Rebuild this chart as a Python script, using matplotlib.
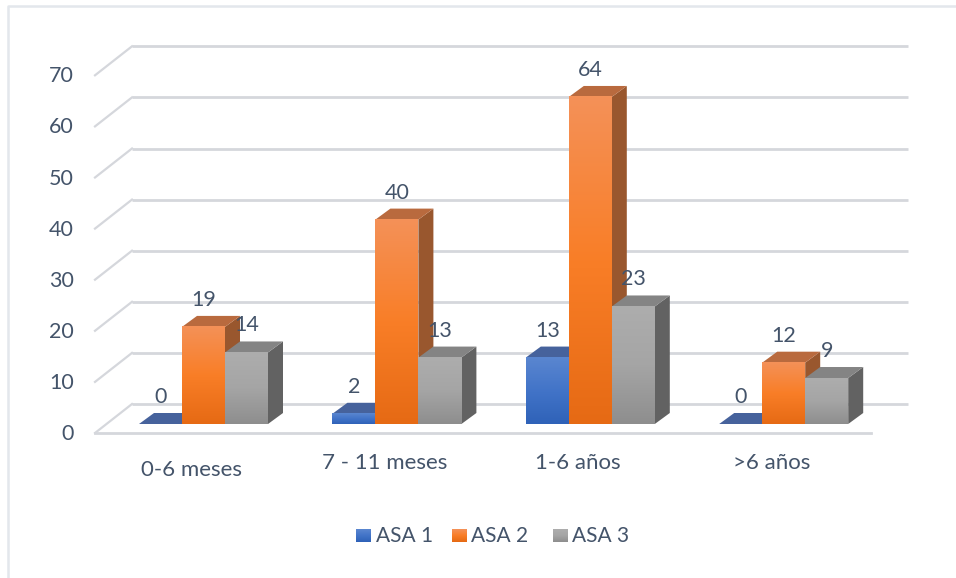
import numpy as np
import matplotlib
matplotlib.use("Agg")
import matplotlib.pyplot as plt
from matplotlib.colors import LinearSegmentedColormap
from matplotlib.patches import Polygon

categories = ["0-6 meses", "7 - 11 meses", "1-6 años", ">6 años"]
series_names = ["ASA 1", "ASA 2", "ASA 3"]
asa1 = [0, 2, 13, 0]
asa2 = [19, 40, 64, 12]
asa3 = [14, 13, 23, 9]
y_ticks = [0, 10, 20, 30, 40, 50, 60, 70]

W, H = 956, 578
TEXT = "#44546A"
GRID = "#D5D7DC"
FRAME = "#E3E7EC"

# value axis and category axis share one full-figure axes
PX_PER_UNIT = 5.11
PX_PER_GROUP = 193.4
X0_PX = 203.5
Y0_PX = 424.0
BAR_PX = 43.0
DEPTH_X, DEPTH_Y = 15.0, 11.0

plt.rcParams["font.family"] = ["Lato", "DejaVu Sans"]
fig = plt.figure(figsize=(W / 100, H / 100), dpi=100)
ax = fig.add_axes([0, 0, 1, 1])
ax.axis("off")

ux = 1 / PX_PER_GROUP
uy = 1 / PX_PER_UNIT


def px(x):
    return ux * (x - X0_PX)


def py(y):
    return uy * (Y0_PX - y)


# chart frame: only the top and left edges are visible
ax.plot([px(7.5), px(7.5), px(956)], [py(578), py(6), py(6)], color=FRAME, lw=1.8, zorder=0)

# back wall gridlines, side wall diagonals and floor edge
wall_x0 = px(132)
wall_x1 = px(908)
wall_dx = ux * 37
wall_dy = uy * 29
floor_back = uy * 20
for v in y_ticks:
    y = v + floor_back
    ax.plot([wall_x0, wall_x1], [y, y], color=GRID, lw=2.0, zorder=1, solid_capstyle="butt")
    ax.plot([wall_x0, wall_x0 - wall_dx], [y, y - wall_dy], color=GRID, lw=1.6, zorder=1)
    ax.text(px(74), v - uy * 10, str(v), color=TEXT, fontsize=15.5,
            ha="right", va="center", zorder=5)
ax.plot([wall_x0 - wall_dx, px(871)], [py(432.5), py(432.5)], color=GRID, lw=2.0, zorder=1)

styles = {
    "ASA 1": dict(front=["#5A86D0", "#4274C8", "#2F62B8"], top="#46629C", side="#34518C"),
    "ASA 2": dict(front=["#F49158", "#F97E27", "#E66A14"], top="#B96A3E", side="#99572E"),
    "ASA 3": dict(front=["#ADADAD", "#A5A5A5", "#8E8E8E"], top="#848484", side="#626262"),
}


def draw_bar(x_left, value, style, zorder):
    """Front face with a vertical gradient plus the oblique top and side faces."""
    w = ux * BAR_PX
    dx, dy = ux * DEPTH_X, uy * DEPTH_Y
    ax.add_patch(Polygon([(x_left + w, 0), (x_left + w + dx, dy), (x_left + w + dx, value + dy),
                          (x_left + w, value)], fc=style["side"], ec="none", zorder=zorder))
    ax.add_patch(Polygon([(x_left, value), (x_left + w, value), (x_left + w + dx, value + dy),
                          (x_left + dx, value + dy)], fc=style["top"], ec="none", zorder=zorder))
    if value > 0:
        cmap = LinearSegmentedColormap.from_list("face", style["front"])
        grad = np.linspace(0, 1, 128).reshape(-1, 1)
        ax.imshow(grad, cmap=cmap, extent=(x_left, x_left + w, 0, value), origin="upper",
                  aspect="auto", zorder=zorder + 0.1, interpolation="bilinear")


bar_w = ux * BAR_PX
label_rows = [470, 463, 463, 463]
for i in range(len(categories)):
    for j, (name, values) in enumerate(zip(series_names, [asa1, asa2, asa3])):
        left = i + (j - 1.5) * bar_w
        draw_bar(left, values[i], styles[name], zorder=2 + j)
        ax.text(left + bar_w / 2, values[i] + uy * 27, str(values[i]), color=TEXT,
                fontsize=15.5, ha="center", va="center", zorder=8)
    ax.text(i - ux * 12, py(label_rows[i]), categories[i], color=TEXT, fontsize=16,
            ha="center", va="center", zorder=8)

# legend row
legend_px = [(356, 376), (452, 471), (553, 572)]
for (box, txt), name in zip(legend_px, series_names):
    cmap = LinearSegmentedColormap.from_list("key", styles[name]["front"])
    grad = np.linspace(0, 1, 32).reshape(-1, 1)
    ax.imshow(grad, cmap=cmap, aspect="auto", origin="upper", zorder=5,
              extent=(px(box), px(box + 15), py(542), py(529)))
    ax.text(px(txt), py(536.5), name, color=TEXT, fontsize=15,
            ha="left", va="center", zorder=8)

ax.set_xlim(-X0_PX / PX_PER_GROUP, (W - X0_PX) / PX_PER_GROUP)
ax.set_ylim(-(H - Y0_PX) / PX_PER_UNIT, Y0_PX / PX_PER_UNIT)
fig.savefig("out.png", dpi=100, facecolor="white")
